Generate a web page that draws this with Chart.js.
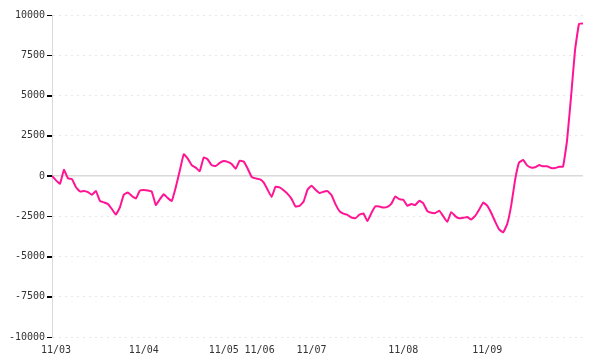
<!DOCTYPE html>
<html>
<head>
<meta charset="utf-8">
<script src="https://cdn.jsdelivr.net/npm/chart.js@4/dist/chart.umd.min.js"></script>
<style>
  html, body { margin: 0; padding: 0; background: #fff; }
  canvas { display: block; }
</style>
</head>
<body>
<canvas id="c" width="600" height="360"></canvas>
<script>
// Series values (one sample per step along the x axis)
const values = [
  0, -270, -480, 380, -150, -190, -700, -960, -930, -1000,
  -1170, -930, -1550, -1640, -1740, -2050, -2400, -1950, -1150, -1030,
  -1240, -1400, -910, -870, -900, -975, -1800, -1450, -1140, -1370,
  -1550, -700, 320, 1350, 1080, 680, 520, 300, 1150, 1030,
  670, 620, 810, 930, 880, 745, 455, 950, 900, 470,
  -50, -150, -200, -400, -850, -1300, -665, -710, -890, -1110,
  -1420, -1900, -1850, -1600, -850, -600, -850, -1060, -975, -940,
  -1180, -1750, -2180, -2340, -2410, -2580, -2620, -2400, -2320, -2800,
  -2300, -1880, -1900, -1960, -1920, -1720, -1270, -1440, -1480, -1850,
  -1740, -1800, -1540, -1700, -2180, -2280, -2300, -2150, -2500, -2850,
  -2240, -2490, -2630, -2600, -2550, -2700, -2480, -2080, -1650, -1840,
  -2280, -2830, -3320, -3500, -3000, -1860, -230, 840, 990, 660,
  530, 540, 680, 600, 610, 500, 490, 570, 580, 2200,
  4900, 7800, 9450, 9480
];
// Date tick labels and the sample index where each appears
const tickLabels = ['11/03', '11/04', '11/05', '11/06', '11/07', '11/08', '11/09'];
const tickIndex  = [1, 23, 43, 52, 65, 88, 109];
// Y axis range / step
const yMin = -10000, yMax = 10000, yStep = 2500;

const categories = values.map(() => '');
tickIndex.forEach((idx, k) => { categories[idx] = tickLabels[k]; });

const FONT = { family: 'DejaVu Sans Mono', size: 10 };

// Short black tick marks to the left of the y axis
const yTickMarks = {
  id: 'yTickMarks',
  afterDraw(chart) {
    const y = chart.scales.y;
    const ctx = chart.ctx;
    const left = chart.chartArea.left;
    ctx.save();
    ctx.strokeStyle = '#000';
    ctx.lineWidth = 1;
    ctx.setLineDash([]);
    y.ticks.forEach((t) => {
      const py = Math.round(y.getPixelForValue(t.value)) + 0.5;
      ctx.beginPath();
      ctx.moveTo(left - 5, py);
      ctx.lineTo(left, py);
      ctx.stroke();
    });
    ctx.restore();
  }
};

new Chart(document.getElementById('c'), {
  type: 'line',
  data: {
    labels: categories,
    datasets: [{
      data: values,
      borderColor: '#ff1493',
      borderWidth: 2,
      pointRadius: 0,
      fill: false,
      tension: 0.1
    }]
  },
  options: {
    responsive: false,
    animation: false,
    devicePixelRatio: 1,
    layout: { padding: { left: 0, right: 17, top: 15, bottom: 0 } },
    plugins: { legend: { display: false }, tooltip: { enabled: false } },
    scales: {
      x: {
        type: 'category',
        grid: { display: false, drawTicks: false },
        border: { display: false },
        ticks: {
          autoSkip: false, maxRotation: 0, minRotation: 0,
          padding: 7, color: '#333', font: FONT
        },
        afterFit: (s) => { s.height = 23; }
      },
      y: {
        min: yMin, max: yMax,
        grid: {
          color: (ctx) => (ctx.tick && ctx.tick.value === 0) ? '#dadada' : '#e8e8e8',
          lineWidth: (ctx) => (ctx.tick && ctx.tick.value === 0) ? 1.5 : 1,
          tickLength: 5,
          tickColor: '#000',
          tickBorderDash: []
        },
        border: {
          display: true, color: '#d9d9d9', width: 1,
          dash: (ctx) => (ctx.tick && ctx.tick.value === 0) ? [] : [2, 4]
        },
        ticks: {
          stepSize: yStep, padding: 2, color: '#333', font: FONT,
          callback: (v) => String(v)
        },
        afterFit: (s) => { s.width = 52; }
      }
    }
  },
  plugins: [yTickMarks]
});
</script>
</body>
</html>
